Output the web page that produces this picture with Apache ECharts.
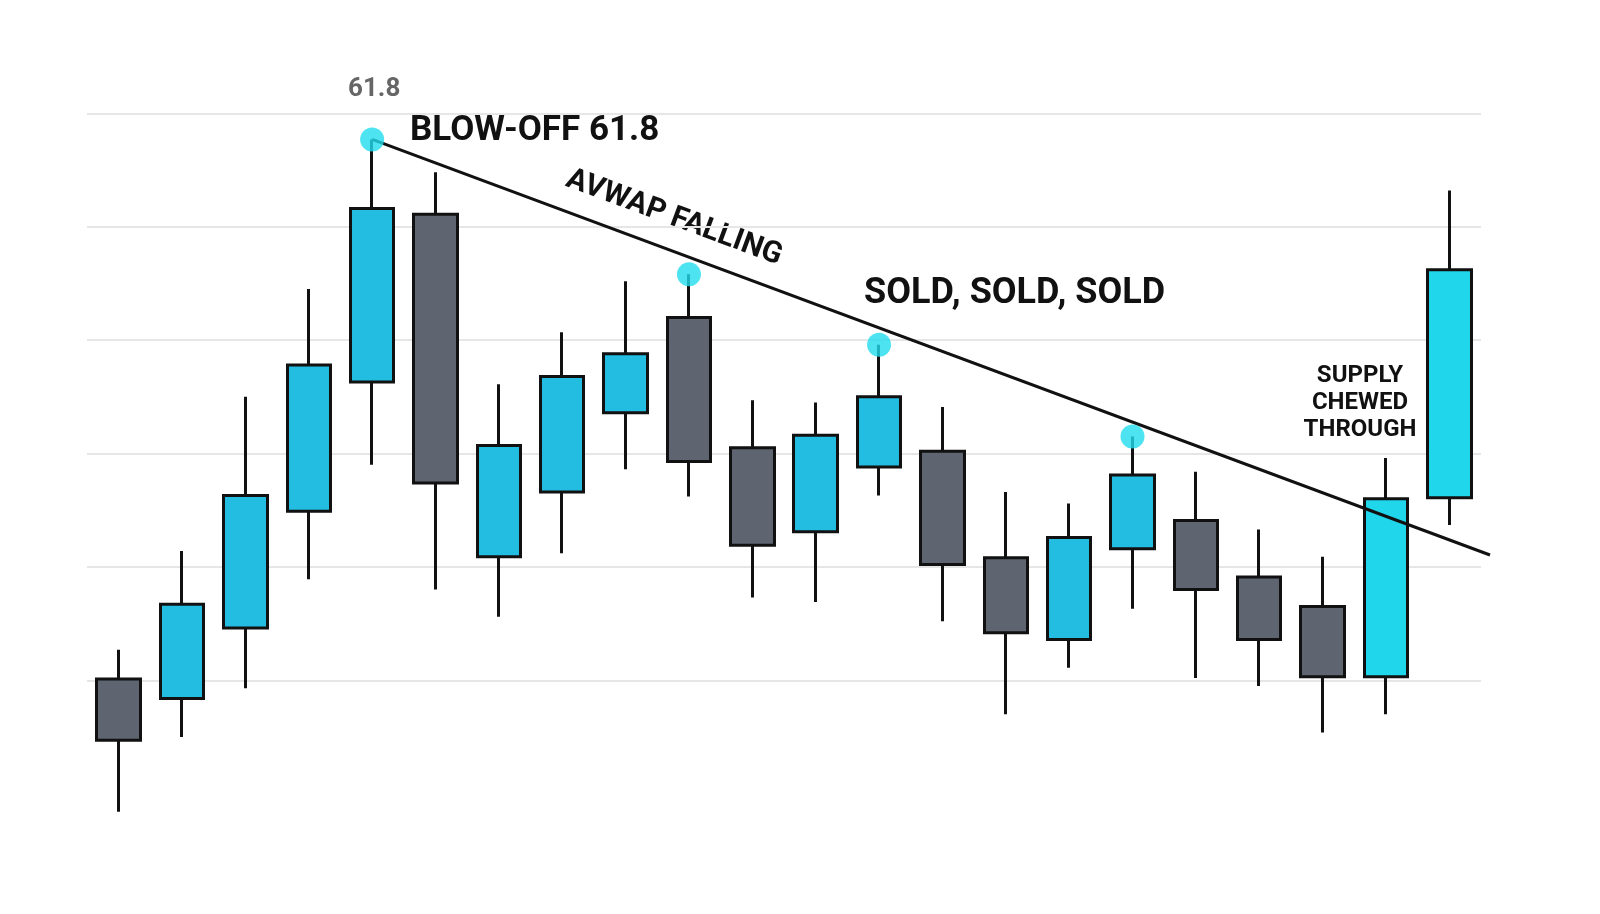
<!DOCTYPE html>
<html>
<head>
<meta charset="utf-8">
<script src="https://cdn.jsdelivr.net/npm/echarts@6/dist/echarts.min.js"></script>
<style>html,body{margin:0;background:#fff}#main{width:1600px;height:914px}</style>
</head>
<body>
<div id="main"></div>
<script>
var days = ['1','2','3','4','5','6','7','8','9','10','11','12','13','14','15','16','17','18','19','20','21','22'];
// [open, close, low, high]
var candles = [
  [57.01, 56.47, 55.84, 57.27],
  [56.84, 57.67, 56.50, 58.14],
  [57.46, 58.63, 56.93, 59.50],
  [58.49, 59.78, 57.89, 60.45],
  [59.63, 61.16, 58.90, 61.77],
  [61.11, 58.74, 57.80, 61.48],
  [58.09, 59.07, 57.56, 59.61],
  [58.66, 59.68, 58.12, 60.07],
  [59.36, 59.88, 58.86, 60.52],
  [60.20, 58.93, 58.62, 60.58],
  [59.05, 58.19, 57.73, 59.47],
  [58.31, 59.16, 57.69, 59.45],
  [58.88, 59.50, 58.63, 59.96],
  [59.02, 58.02, 57.52, 59.41],
  [58.08, 57.42, 56.70, 58.66],
  [57.36, 58.26, 57.11, 58.56],
  [58.16, 58.81, 57.63, 59.15],
  [58.41, 57.80, 57.02, 58.84],
  [57.91, 57.36, 56.95, 58.33],
  [57.65, 57.03, 56.54, 58.09],
  [57.03, 58.60, 56.70, 58.96],
  [58.61, 60.62, 58.37, 61.32]
];
var breakout = [20, 21];
var touches = [[4, 61.77], [9, 60.58], [12, 59.96], [16, 59.15]];
var avwapLine = [[4, 61.77], [21, 58.24]];
var gridValues = [57, 58, 59, 60, 61, 62];

var myChart = echarts.init(document.getElementById('main'));
var f = 'Roboto, "DejaVu Sans", sans-serif';
option = {
  animation: false,
  grid: { left: 87, right: 119, top: 0, bottom: 7 },
  xAxis: { type: 'category', data: days, show: false },
  yAxis: { type: 'value', min: 55, max: 63, show: false, splitLine: { show: false } },
  series: [{
    // 网格线
    type: 'line',
    data: [],
    z: 0,
    markLine: {
      symbol: 'none', silent: true, z: 0,
      lineStyle: { color: '#e6e6e6', width: 2, type: 'solid' },
      label: { show: false },
      data: gridValues.map(function (v) { return { yAxis: v }; })
    }
  }, {
    type: 'candlestick',
    barWidth: 44,
    data: candles.map(function (c, i) {
      if (breakout.indexOf(i) >= 0) return { value: c, itemStyle: { color: '#1fd6ea' } };
      return c;
    }),
    itemStyle: { color: '#22bde0', color0: '#5f6570', borderColor: '#111', borderColor0: '#111', borderWidth: 3 },
    z: 2
  }, {
    type: 'line',
    data: [],
    markLine: {
      symbol: 'none', silent: true, z: 3,
      lineStyle: { color: '#111', width: 3, type: 'solid' },
      label: { show: false },
      data: [[{ coord: avwapLine[0] }, { coord: avwapLine[1], x: 1490, y: 555 }]]
    },
    z: 3
  }, {
    type: 'scatter',
    data: touches,
    symbolSize: 24,
    itemStyle: { color: '#22dcec' },
    z: 5
  }],
  graphic: [
    { type: 'text', left: 348, top: 76, style: { text: '61.8', font: 'bold 26px ' + f, fill: '#666' } },
    { type: 'text', left: 410, top: 114, style: { text: 'BLOW-OFF 61.8', font: 'bold 35px ' + f, fill: '#111' } },
    { type: 'text', x: 674, y: 218, rotation: -20.3 * Math.PI / 180,
      style: { text: 'AVWAP FALLING', font: 'bold 30px ' + f, fill: '#111', align: 'center', verticalAlign: 'middle' } },
    { type: 'text', left: 864, top: 276, style: { text: 'SOLD, SOLD, SOLD', font: 'bold 36px ' + f, fill: '#111' } },
    { type: 'text', x: 1360, y: 362, style: { text: 'SUPPLY\nCHEWED\nTHROUGH', font: 'bold 24px ' + f, lineHeight: 27, fill: '#111', align: 'center' } }
  ]
};
myChart.setOption(option);
</script>
</body>
</html>
